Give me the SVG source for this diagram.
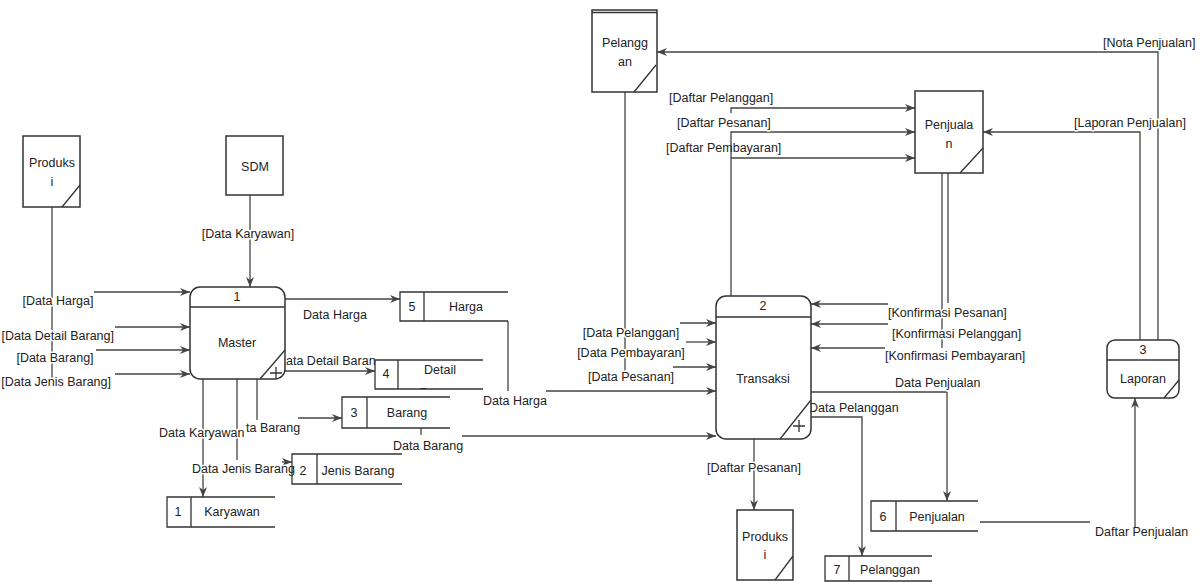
<svg xmlns="http://www.w3.org/2000/svg" width="1200" height="582" viewBox="0 0 1200 582">
<style>
text{font-family:"Liberation Sans",Arial,sans-serif;font-size:12.5px;fill:#222}
.m{text-anchor:middle}
.e{text-anchor:end}
.h{stroke:#fff;stroke-width:3;paint-order:stroke;stroke-linejoin:round}
.box{fill:#fff;stroke:#333;stroke-width:1.5}
.ln{fill:none;stroke:#333;stroke-width:1.3}
.st{fill:none;stroke:#333;stroke-width:1.3}
.fl{fill:none;stroke:#444;stroke-width:1.3}
.ar{marker-end:url(#arr)}
</style>
<defs>
<marker id="arr" markerWidth="11" markerHeight="8" refX="10" refY="4" orient="auto" markerUnits="userSpaceOnUse">
<path d="M0,0 L10,4 L0,8 L3,4 z" fill="#444"/>
</marker>
<clipPath id="c4"><rect x="375" y="360" width="110" height="29"/></clipPath>
</defs>
<rect width="1200" height="582" fill="#fff"/>

<g id="connectors">
<path class="fl" d="M52,207 V378"/>
<path class="fl ar" d="M94,292 H190"/>
<path class="fl ar" d="M115,327 H190"/>
<path class="fl ar" d="M96,350 H190"/>
<path class="fl ar" d="M115,374 H190"/>
<path class="fl ar" d="M250,195 V287"/>
<path class="fl ar" d="M285,299 H400"/>
<path class="fl ar" d="M285,371 H375"/>
<path class="fl" d="M508,321 V391"/>
<path class="fl ar" d="M546,391 H716"/>
<path class="fl" d="M257,379 V420"/>
<path class="fl ar" d="M298,418 H342"/>
<path class="fl" d="M237,379 V460"/>
<path class="fl ar" d="M282,462 H292"/>
<path class="fl ar" d="M203,379 V497"/>
<path class="fl" d="M421,428 V435"/>
<path class="fl ar" d="M462,436 H716"/>
<path class="fl" d="M625,92 V372"/>
<path class="fl ar" d="M680,323 H716"/>
<path class="fl ar" d="M686,342 H716"/>
<path class="fl ar" d="M673,367 H716"/>
<path class="fl ar" d="M1158,340 V52 H657"/>
<path class="fl ar" d="M1140,340 V132 H983"/>
<path class="fl ar" d="M731,296 V132 H915"/>
<path class="fl ar" d="M731,158 H915"/>
<path class="fl ar" d="M731,113 V108 H915"/>
<path class="fl" d="M942,173 V348"/>
<path class="fl" d="M948,173 V303"/>
<path class="fl ar" d="M888,304 H811"/>
<path class="fl ar" d="M888,324 H811"/>
<path class="fl ar" d="M885,348 H811"/>
<path class="fl ar" d="M811,392 H947 V501"/>
<path class="fl ar" d="M811,417 H862 V556"/>
<path class="fl" d="M980,522 H1090"/>
<path class="fl ar" d="M1135,527 V398"/>
<path class="fl ar" d="M754,439 V510"/>
</g>

<g id="labels">
<text class="m h" x="58" y="305">[Data Harga]</text>
<text class="e h" x="114" y="340">[Data Detail Barang]</text>
<text class="m h" x="55" y="362">[Data Barang]</text>
<text class="e h" x="111" y="386">[Data Jenis Barang]</text>
<text class="m h" x="248" y="238">[Data Karyawan]</text>
<text x="303" y="319">Data Harga</text>
<text class="h" x="286" y="365">ata Detail Baran</text>
<text class="h" x="483" y="405">Data Harga</text>
<text class="h" x="246" y="432">ta Barang</text>
<text class="h" x="159" y="437">Data Karyawan</text>
<text class="h" x="192" y="473">Data Jenis Barang</text>
<text class="h" x="393" y="450">Data Barang</text>
<text class="m h" x="631" y="337">[Data Pelanggan]</text>
<text class="m h" x="631" y="357">[Data Pembayaran]</text>
<text class="m h" x="631" y="381">[Data Pesanan]</text>
<text x="669" y="102">[Daftar Pelanggan]</text>
<text class="h" x="677" y="127">[Daftar Pesanan]</text>
<text x="666" y="152">[Daftar Pembayaran]</text>
<text x="1103" y="47">[Nota Penjualan]</text>
<text class="h" x="1074" y="127">[Laporan Penjualan]</text>
<text class="h" x="888" y="317">[Konfirmasi Pesanan]</text>
<text class="h" x="892" y="338">[Konfirmasi Pelanggan]</text>
<text class="h" x="885" y="360">[Konfirmasi Pembayaran]</text>
<text class="h" x="895" y="387">Data Penjualan</text>
<text class="h" x="809" y="412">Data Pelanggan</text>
<text x="1095" y="536">Daftar Penjualan</text>
<text class="m h" x="754" y="472">[Daftar Pesanan]</text>
</g>

<g id="ent-produksi-1">
<rect class="box" x="23" y="136" width="57" height="71"/>
<path class="ln" d="M62,207 L80,185"/>
<text class="m" x="52" y="167">Produks</text>
<text class="m" x="52" y="186">i</text>
</g>

<g id="ent-sdm">
<rect class="box" x="226" y="136" width="57" height="59"/>
<text class="m" x="255" y="171">SDM</text>
</g>

<g id="proc-master">
<rect class="box" x="190" y="287" width="95" height="92" rx="10"/>
<path class="ln" d="M190,307 H285 M260,379 L285,350 M270,373 H282 M276,367 V379"/>
<text class="m" x="237" y="301">1</text>
<text class="m" x="237" y="347">Master</text>
</g>

<g id="store-5">
<path class="st" d="M508,292 H400 V321 H508 M424,292 V321"/>
<text class="m" x="412" y="311">5</text>
<text class="m" x="466" y="311">Harga</text>
</g>

<g id="store-4">
<path class="st" d="M483,360 H375 V389 H483 M398,360 V389"/>
<text class="m" x="386" y="378">4</text>
<text class="m" x="440" y="374">Detail</text>
<text class="m" x="440" y="397" clip-path="url(#c4)">Barang</text>
</g>

<g id="store-3">
<path class="st" d="M450,397 H342 V428 H450 M367,397 V428"/>
<text class="m" x="354" y="417">3</text>
<text class="m" x="407" y="417">Barang</text>
</g>

<g id="store-2">
<path class="st" d="M402,454 H292 V484 H402 M317,454 V484"/>
<text class="m" x="303" y="475">2</text>
<text class="m" x="358" y="475">Jenis Barang</text>
</g>

<g id="store-1">
<path class="st" d="M275,497 H167 V527 H275 M191,497 V527"/>
<text class="m" x="178" y="516">1</text>
<text class="m" x="232" y="516">Karyawan</text>
</g>

<g id="ent-pelanggan">
<rect class="box" x="592" y="10" width="65" height="82"/>
<path class="ln" d="M592,12.5 H657 M634,92 L656,65"/>
<text class="m" x="625" y="47">Pelangg</text>
<text class="m" x="625" y="66">an</text>
</g>

<g id="ent-penjualan">
<rect class="box" x="915" y="91" width="68" height="82"/>
<path class="ln" d="M960,173 L983,148"/>
<text class="m" x="949" y="129">Penjuala</text>
<text class="m" x="949" y="148">n</text>
</g>

<g id="proc-transaksi">
<rect class="box" x="716" y="296" width="95" height="143" rx="10"/>
<path class="ln" d="M716,317 H811 M780,439 L811,400 M793,426 H805 M799,420 V432"/>
<text class="m" x="763" y="310">2</text>
<text class="m" x="763" y="383">Transaksi</text>
</g>

<g id="proc-laporan">
<rect class="box" x="1107" y="340" width="72" height="58" rx="8"/>
<path class="ln" d="M1107,360 H1179 M1164,398 L1179,380"/>
<text class="m" x="1143" y="354">3</text>
<text class="m" x="1143" y="383">Laporan</text>
</g>

<g id="store-6">
<path class="st" d="M978,501 H871 V531 H978 M896,501 V531"/>
<text class="m" x="883" y="521">6</text>
<text class="m" x="937" y="521">Penjualan</text>
</g>

<g id="store-7">
<path class="st" d="M932,556 H825 V581 H932 M849,556 V581"/>
<text class="m" x="837" y="574">7</text>
<text class="m" x="890" y="574">Pelanggan</text>
</g>

<g id="ent-produksi-2">
<rect class="box" x="737" y="510" width="56" height="70"/>
<path class="ln" d="M775,580 L793,556"/>
<text class="m" x="765" y="541">Produks</text>
<text class="m" x="765" y="559">i</text>
</g>
</svg>
